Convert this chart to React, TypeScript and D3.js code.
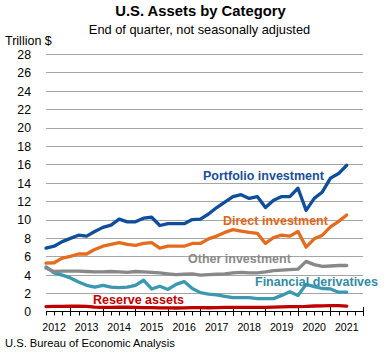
import React from "react";
import * as d3 from "d3";

// Quarterly, 2011Q4 .. 2021Q1 (38 points), trillion $
const quarters: string[] = [
  "2011Q4",
  "2012Q1","2012Q2","2012Q3","2012Q4",
  "2013Q1","2013Q2","2013Q3","2013Q4",
  "2014Q1","2014Q2","2014Q3","2014Q4",
  "2015Q1","2015Q2","2015Q3","2015Q4",
  "2016Q1","2016Q2","2016Q3","2016Q4",
  "2017Q1","2017Q2","2017Q3","2017Q4",
  "2018Q1","2018Q2","2018Q3","2018Q4",
  "2019Q1","2019Q2","2019Q3","2019Q4",
  "2020Q1","2020Q2","2020Q3","2020Q4",
  "2021Q1",
];

const portfolio: number[] = [
  6.9, 7.1, 7.6, 7.95, 8.3, 8.2, 8.7, 9.15, 9.4, 10.05, 9.75, 9.75, 10.15,
  10.25, 9.35, 9.55, 9.55, 9.55, 10.0, 10.05, 10.6, 11.3, 11.9, 12.5, 12.7,
  12.3, 12.5, 11.3, 12.1, 12.5, 12.5, 13.4, 11.0, 12.3, 13.0, 14.5, 15.0, 15.9,
];

const direct: number[] = [
  5.25, 5.3, 5.8, 6.0, 6.25, 6.25, 6.75, 7.1, 7.3, 7.5, 7.3, 7.2, 7.4, 7.5,
  6.9, 7.1, 7.1, 7.1, 7.4, 7.4, 7.9, 8.2, 8.6, 8.9, 8.75, 8.6, 8.5, 7.4, 8.05,
  8.3, 8.2, 8.7, 7.0, 7.9, 8.3, 9.2, 9.8, 10.5,
];

const other: number[] = [
  4.7, 4.35, 4.4, 4.4, 4.4, 4.35, 4.3, 4.3, 4.35, 4.3, 4.25, 4.35, 4.3, 4.25,
  4.2, 4.1, 4.0, 4.05, 4.1, 3.95, 4.0, 4.05, 4.1, 4.2, 4.25, 4.2, 4.2, 4.3,
  4.45, 4.5, 4.55, 4.6, 5.45, 5.1, 4.9, 4.95, 5.0, 5.0,
];

const derivatives: number[] = [
  4.85, 4.2, 3.95, 3.65, 3.2, 2.85, 2.65, 2.85, 2.65, 2.6, 2.65, 2.85, 3.4,
  2.45, 2.75, 2.4, 2.95, 3.25, 2.5, 2.05, 1.9, 1.8, 1.65, 1.5, 1.5, 1.5, 1.4,
  1.4, 1.4, 1.75, 2.15, 1.75, 2.95, 2.7, 2.5, 2.45, 2.1, 2.1,
];

const reserve: number[] = [
  0.54, 0.55, 0.56, 0.57, 0.57, 0.55, 0.47, 0.45, 0.45, 0.46, 0.46, 0.45,
  0.43, 0.42, 0.4, 0.39, 0.38, 0.4, 0.42, 0.42, 0.41, 0.43, 0.44, 0.45, 0.45,
  0.45, 0.45, 0.45, 0.48, 0.5, 0.52, 0.52, 0.55, 0.6, 0.62, 0.63, 0.63, 0.58,
];

const yTicks: number[] = [0, 2, 4, 6, 8, 10, 12, 14, 16, 18, 20, 22, 24, 26, 28];
const yearLabels: string[] = ["2012", "2013", "2014", "2015", "2016", "2017", "2018", "2019", "2020", "2021"];

const FONT = "'Liberation Sans', Arial, sans-serif";

export default function App() {
  const W = 386;
  const H = 357;
  const x = d3.scaleLinear().domain([0, quarters.length + 1]).range([46, 363]);
  const y = d3.scaleLinear().domain([0, 28]).range([311.5, 54]);

  const line = d3
    .line<number>()
    .x((_, i) => x(i))
    .y((d) => y(d));

  const series = [
    { name: "Financial derivatives", data: derivatives, color: "#3a98b0" },
    { name: "Other investment", data: other, color: "#888888" },
    { name: "Direct investment", data: direct, color: "#e46c1c" },
    { name: "Portfolio investment", data: portfolio, color: "#0e4e9c" },
    { name: "Reserve assets", data: reserve, color: "#c00000" },
  ];

  const labels = [
    { text: "Portfolio investment", x: 203, y: 179.5, color: "#1a4f9a" },
    { text: "Direct investment", x: 223, y: 224.5, color: "#e0671a" },
    { text: "Other investment", x: 188, y: 262.5, color: "#8a8a8a" },
    { text: "Financial derivatives", x: 255, y: 286, color: "#328ba3" },
    { text: "Reserve assets", x: 93, y: 304, color: "#c00000" },
  ];

  const nTicks = quarters.length + 2; // 0..39
  const minorIdx = d3.range(0, nTicks);
  const majorIdx = d3.range(3, nTicks, 4);

  return (
    <svg
      width={W}
      height={H}
      style={{ position: "absolute", left: 0, top: 0, background: "#fff" }}
      fontFamily={FONT}
    >
      <rect x={0} y={0} width={W} height={H} fill="#fff" />
      <text x={200.5} y={16} textAnchor="middle" fontSize={14.8} fontWeight="bold" fill="#000">
        U.S. Assets by Category
      </text>
      <text x={199.5} y={33.5} textAnchor="middle" fontSize={12.8} fill="#000">
        End of quarter, not seasonally adjusted
      </text>
      <text x={5} y={45} fontSize={12.5} fill="#000">
        Trillion $
      </text>

      {/* gridlines */}
      {yTicks.filter((t) => t > 0).map((t) => (
        <line
          key={t}
          x1={x(0)}
          x2={x(nTicks - 1)}
          y1={Math.round(y(t)) + 0.5}
          y2={Math.round(y(t)) + 0.5}
          stroke="#a6a6a6"
          strokeWidth={1}
        />
      ))}
      {yTicks.map((t) => (
        <text key={t} x={31} y={y(t)} dy="0.4em" textAnchor="end" fontSize={12.3} fill="#000">
          {t}
        </text>
      ))}

      {/* x axis */}
      <line x1={x(0)} x2={x(nTicks - 1)} y1={311.5} y2={311.5} stroke="#000" strokeWidth={1} />
      {minorIdx.map((i) => (
        <line key={"m" + i} x1={Math.round(x(i)) + 0.5} x2={Math.round(x(i)) + 0.5} y1={311.5} y2={315.5} stroke="#000" strokeWidth={1} />
      ))}
      {majorIdx.map((i) => (
        <line key={"M" + i} x1={Math.round(x(i)) + 0.5} x2={Math.round(x(i)) + 0.5} y1={307} y2={316} stroke="#000" strokeWidth={1} />
      ))}
      {yearLabels.map((lab, k) => (
        <text key={lab} x={x(1 + 4 * k)} y={330.5} textAnchor="middle" fontSize={10.6} fill="#000">
          {lab}
        </text>
      ))}

      {/* series */}
      {series.map((s) => (
        <path
          key={s.name}
          d={line(s.data) || ""}
          fill="none"
          stroke={s.color}
          strokeWidth={3.3}
          strokeLinejoin="round"
          strokeLinecap="round"
        />
      ))}

      {labels.map((l) => (
        <text key={l.text} x={l.x} y={l.y} fontSize={12.5} fontWeight="bold" fill={l.color}>
          {l.text}
        </text>
      ))}

      <text x={5} y={347} fontSize={11.2} fill="#000">
        U.S. Bureau of Economic Analysis
      </text>
    </svg>
  );
}
